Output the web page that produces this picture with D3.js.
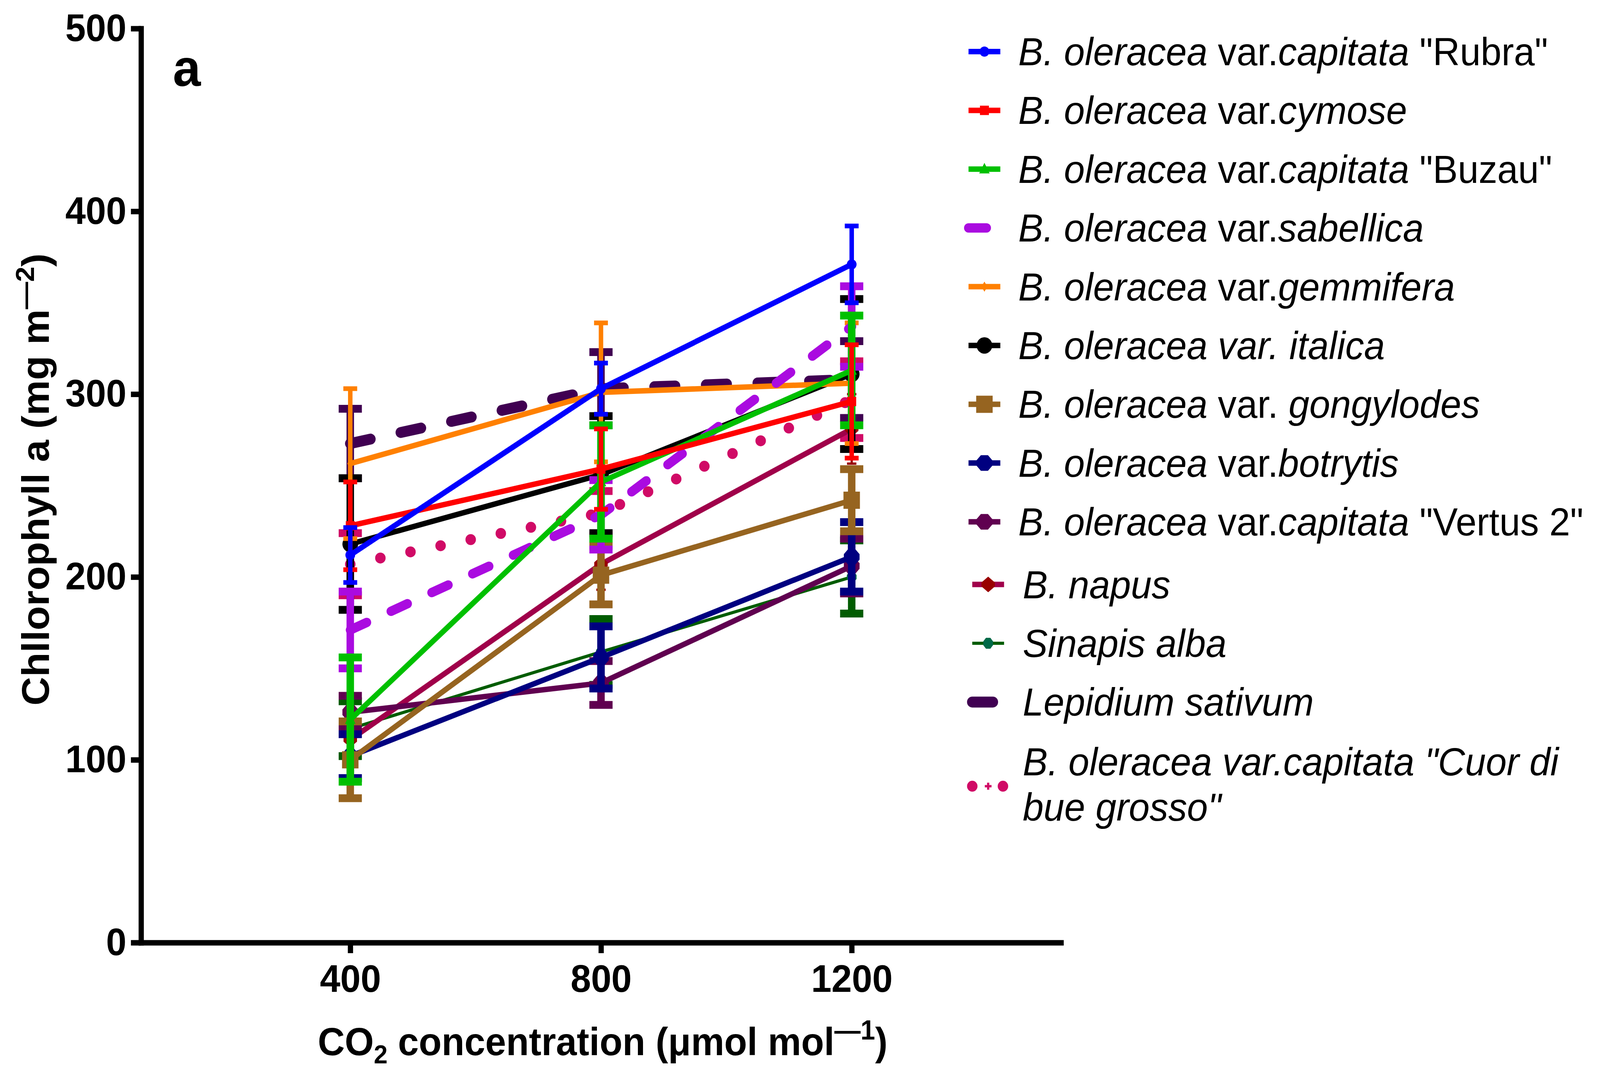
<!DOCTYPE html>
<html>
<head>
<meta charset="utf-8">
<script src="https://cdn.jsdelivr.net/npm/d3@7"></script>
<style>
  html, body { margin: 0; padding: 0; background: #fff; overflow: hidden; }
  text { font-family: "Liberation Sans", Arial, sans-serif; }
</style>
</head>
<body>
<div id="graph"></div>
<script>
// CO2 levels on the x axis and the y tick values
var co2 = [400, 800, 1200];
var yTicks = [0, 100, 200, 300, 400, 500];

var seriesNames = [
  "Rubra", "cymose", "Buzau", "sabellica", "gemmifera", "italica", "gongylodes",
  "botrytis", "Vertus 2", "B. napus", "Sinapis alba", "Lepidium sativum", "Cuor di bue grosso"
];

// chlorophyll a means at 400 / 800 / 1200, one row per series (same order as seriesNames)
var meanValues = [
  [212, 303, 371],
  [228, 259, 296],
  [122, 252, 313],
  [171, 234, 337],
  [262, 301, 306],
  [218, 256, 311],
  [100, 201, 242],
  [102, 156, 211],
  [126, 142, 206],
  [111, 207, 281],
  [117, 159, 200],
  [273, 303, 308],
  [207, 235, 297]
];

// error bar half-lengths
var sdValues = [
  [15, 14, 21],
  [24, 22, 31],
  [34, 31, 30],
  [21, 19, 22],
  [41, 38, 33],
  [36, 32, 41],
  [21, 16, 17],
  [12, 17, 19],
  [9, 12, 15],
  [10, 14, 19],
  [15, 18, 20],
  [19, 20, 21],
  [17, 12, 21]
];

// legend text: pieces of [text, italic]
var legendLabels = [
  [["B. oleracea ", 1], ["var.", 0], ["capitata", 1], [" \"Rubra\"", 0]],
  [["B. oleracea ", 1], ["var.", 0], ["cymose", 1]],
  [["B. oleracea ", 1], ["var.", 0], ["capitata", 1], [" \"Buzau\"", 0]],
  [["B. oleracea ", 1], ["var.", 0], ["sabellica", 1]],
  [["B. oleracea ", 1], ["var.", 0], ["gemmifera", 1]],
  [["B. oleracea var. italica", 1]],
  [["B. oleracea ", 1], ["var. ", 0], ["gongylodes", 1]],
  [["B. oleracea ", 1], ["var.", 0], ["botrytis", 1]],
  [["B. oleracea ", 1], ["var.", 0], ["capitata", 1], [" \"Vertus 2\"", 0]],
  [["B. napus", 1]],
  [["Sinapis alba", 1]],
  [["Lepidium sativum", 1]],
  [["B. oleracea var.capitata \"Cuor di", 1]]
];
var legendSecondLine = "bue grosso\"";

// styles
var lineColors = ["#0000ff", "#ff0000", "#00c000", "#aa0be0", "#ff8000", "#000000", "#966420",
                  "#000080", "#600050", "#a0004a", "#005c00", "#400052", "#d00a66"];
var markerColors = ["#0000ff", "#ff0000", "#00c000", "#aa0be0", "#ff8000", "#000000", "#966420",
                    "#000080", "#600050", "#990000", "#006a48", "#400052", "#d00a66"];
var barColors = ["#0000ff", "#ff0000", "#00c000", "#aa0be0", "#ff8000", "#000000", "#966420",
                 "#000080", "#600050", "#990000", "#005c00", "#400052", "#d00a66"];
var lineWidths = [14, 14, 14, 24, 14, 14, 14, 14, 14, 14, 8, 28, 28];
var dashes = [null, null, null, "48,71", null, null, null, null, null, null, null, "55,83", "0,82"];
var symbols = ["dot", "square", "triangle", null, "diamond", "circle", "bigSquare",
               "octagon", "octagon", "hexagon", "smallOctagon", null, "plus"];
var barKinds = ["thin", "thin", "thick", "thick", "thin", "thick", "thick", "thick", "thick",
                "fine", "thick", "thick", "thick"];
var barStyle = {
  thin: {stem: 12, cap: 37, capT: 12},
  thick: {stem: 20, cap: 62, capT: 20},
  fine: {stem: 6, cap: 25, capT: 6}
};

var FONT = "'Liberation Sans', Arial, sans-serif";

// the drawing is laid out on a 4277 x 2761 grid and stretched to the window
var svg = d3.select("#graph")
    .append("svg")
    .attr("viewBox", "0 0 4277 2761")
    .attr("preserveAspectRatio", "none")
    .style("width", "100vw")
    .style("height", "100vh")
    .style("display", "block")
    .style("background", "#fff");

var x = d3.scalePoint().domain(co2).range([370, 2843]).padding(0.845);
var y = d3.scaleLinear().domain([0, 500]).range([2412, 73]);

function poly(pts) {
  return d3.line()(pts) + "Z";
}

function octagon(w, h) {
  var a = w / 2, b = h / 2;
  return poly([[-a * 0.45, -b], [a * 0.45, -b], [a, -b * 0.35], [a, b * 0.35],
               [a * 0.45, b], [-a * 0.45, b], [-a, b * 0.35], [-a, -b * 0.35]]);
}

function symbolPath(type) {
  switch (type) {
    case "dot": return d3.symbol().type(d3.symbolCircle).size(Math.PI * 13 * 13)();
    case "circle": return d3.symbol().type(d3.symbolCircle).size(Math.PI * 21 * 21)();
    case "square": return poly([[-12, -12], [12, -12], [12, 12], [-12, 12]]);
    case "bigSquare": return poly([[-22, -22], [22, -22], [22, 22], [-22, 22]]);
    case "triangle": return poly([[0, -16], [14, 11], [-14, 11]]);
    case "diamond": return poly([[0, -13], [8, 0], [0, 13], [-8, 0]]);
    case "octagon": return octagon(42, 40);
    case "smallOctagon": return octagon(26, 28);
    case "hexagon": return poly([[0, -20], [18, -5], [18, 5], [0, 20], [-18, 5], [-18, -5]]);
    case "plus": return poly([[-3, -9], [3, -9], [3, -3], [9, -3], [9, 3], [3, 3], [3, 9],
                              [-3, 9], [-3, 3], [-9, 3], [-9, -3], [-3, -3]]);
  }
  return null;
}

// axes
var xAxis = svg.append("g")
    .attr("transform", "translate(0,2412)")
    .call(d3.axisBottom(x).tickSize(27).tickSizeOuter(0).tickPadding(29));
var yAxis = svg.append("g")
    .attr("transform", "translate(377,0)")
    .call(d3.axisLeft(y).tickValues(yTicks).tickSize(27).tickSizeOuter(0).tickPadding(12));

[xAxis, yAxis].forEach(function (g) {
  g.attr("font-family", FONT).attr("font-size", 98).attr("font-weight", "bold");
  g.select(".domain").attr("stroke", "#000").attr("stroke-width", 14);
  g.selectAll(".tick line").attr("stroke", "#000").attr("stroke-width", 14);
  g.selectAll(".tick text").attr("fill", "#000");
});
yAxis.select(".domain").attr("stroke-linecap", "square");

// series, drawn last first so that the first one ends up on top
var line = d3.line()
    .x(function (d) { return x(d.c); })
    .y(function (d) { return y(d.v); });

for (var s = seriesNames.length - 1; s >= 0; s--) {
  var pts = co2.map(function (c, j) {
    return {c: c, v: meanValues[s][j], e: sdValues[s][j]};
  });
  var st = barStyle[barKinds[s]];
  var g = svg.append("g").attr("class", "series");

  g.selectAll("line.stem")
    .data(pts)
    .enter()
    .append("line")
    .attr("class", "stem")
    .attr("x1", function (d) { return x(d.c); })
    .attr("x2", function (d) { return x(d.c); })
    .attr("y1", function (d) { return y(d.v - d.e); })
    .attr("y2", function (d) { return y(d.v + d.e); })
    .attr("stroke", barColors[s])
    .attr("stroke-width", st.stem);

  var caps = [];
  pts.forEach(function (d) {
    caps.push({c: d.c, v: d.v + d.e});
    caps.push({c: d.c, v: d.v - d.e});
  });
  g.selectAll("line.cap")
    .data(caps)
    .enter()
    .append("line")
    .attr("class", "cap")
    .attr("x1", function (d) { return x(d.c) - st.cap / 2; })
    .attr("x2", function (d) { return x(d.c) + st.cap / 2; })
    .attr("y1", function (d) { return y(d.v); })
    .attr("y2", function (d) { return y(d.v); })
    .attr("stroke", barColors[s])
    .attr("stroke-width", st.capT);

  g.append("path")
    .datum(pts)
    .attr("d", line)
    .attr("fill", "none")
    .attr("stroke", lineColors[s])
    .attr("stroke-width", lineWidths[s])
    .attr("stroke-linejoin", "round")
    .attr("stroke-linecap", dashes[s] ? "round" : "butt")
    .attr("stroke-dasharray", dashes[s]);

  if (symbols[s]) {
    g.selectAll("path.marker")
      .data(pts)
      .enter()
      .append("path")
      .attr("class", "marker")
      .attr("d", symbolPath(symbols[s]))
      .attr("transform", function (d) { return "translate(" + x(d.c) + "," + y(d.v) + ")"; })
      .attr("fill", markerColors[s]);
  }
}

// legend
var legend = svg.append("g").attr("font-family", FONT).attr("font-size", 100);
legendLabels.forEach(function (pieces, i) {
  var shift = i >= 9 ? 10 : 0;
  var cy = 132 + 150.4 * i + shift;
  var x0 = 2589 + shift, x1 = 2674 + shift;
  var my = i === 12 ? cy + 65 : cy;
  var item = legend.append("g");

  item.append("line")
    .attr("x1", x0).attr("x2", x1)
    .attr("y1", my).attr("y2", my)
    .attr("stroke", lineColors[i])
    .attr("stroke-width", lineWidths[i])
    .attr("stroke-linecap", dashes[i] ? "round" : "butt")
    .attr("stroke-dasharray", dashes[i]);

  if (symbols[i]) {
    item.append("path")
      .attr("d", symbolPath(symbols[i]))
      .attr("transform", "translate(" + ((x0 + x1) / 2) + "," + my + ")")
      .attr("fill", markerColors[i]);
  }

  var t = item.append("text")
    .attr("x", 2722 + (i >= 9 ? 12 : 0))
    .attr("y", cy + (i === 12 ? 37 : 35))
    .attr("fill", "#000");
  pieces.forEach(function (p) {
    t.append("tspan")
      .attr("font-style", p[1] ? "italic" : "normal")
      .text(p[0]);
  });
  if (i === 12) {
    item.append("text")
      .attr("x", 2734)
      .attr("y", cy + 37 + 116)
      .attr("font-style", "italic")
      .attr("fill", "#000")
      .text(legendSecondLine);
  }
});

// panel letter
svg.append("text")
  .attr("x", 462)
  .attr("y", 220)
  .attr("font-family", FONT)
  .attr("font-size", 134)
  .attr("font-weight", "bold")
  .text("a");

// x title
var xt = svg.append("text")
  .attr("x", 1611)
  .attr("y", 2700)
  .attr("text-anchor", "middle")
  .attr("font-family", FONT)
  .attr("font-size", 100)
  .attr("font-weight", "bold");
xt.append("tspan").text("CO");
xt.append("tspan").attr("font-size", 66).attr("dy", 21).text("2");
xt.append("tspan").attr("dy", -21).text(" concentration (\u03bcmol mol");
xt.append("tspan").attr("font-size", 70).attr("dy", -40).text("\u20141");
xt.append("tspan").attr("dy", 40).text(")");

// y title
var yt = svg.append("text")
  .attr("transform", "translate(131,1227) rotate(-90)")
  .attr("text-anchor", "middle")
  .attr("font-family", FONT)
  .attr("font-size", 102)
  .attr("font-weight", "bold");
yt.append("tspan").text("Chllorophyll a (mg m");
yt.append("tspan").attr("font-size", 70).attr("dy", -40).text("\u20142");
yt.append("tspan").attr("dy", 40).text(")");
</script>
</body>
</html>
